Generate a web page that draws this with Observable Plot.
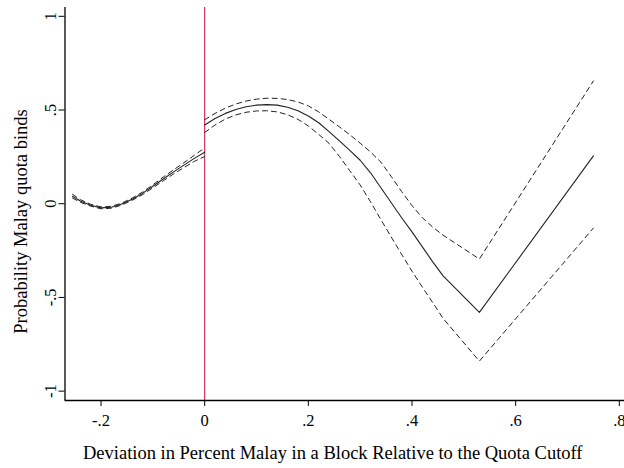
<!DOCTYPE html>
<html>
<head>
<meta charset="utf-8">
<script src="https://cdn.jsdelivr.net/npm/d3@7"></script>
<script src="https://cdn.jsdelivr.net/npm/@observablehq/plot@0.6"></script>
<style>
  html, body { margin: 0; padding: 0; background: #fff; }
</style>
</head>
<body>
<div id="chart"></div>
<script>
// Left of cutoff
const leftX     = [-0.255, -0.24, -0.22, -0.20, -0.18, -0.16, -0.14, -0.12, -0.10, -0.08, -0.06, -0.04, -0.02, 0];
const leftMean  = [0.040, 0.015, -0.008, -0.022, -0.019, -0.002, 0.024, 0.055, 0.093, 0.132, 0.170, 0.206, 0.242, 0.275];
const leftUpper = [0.050, 0.022, -0.003, -0.017, -0.014, 0.003, 0.030, 0.062, 0.101, 0.142, 0.181, 0.219, 0.258, 0.298];
const leftLower = [0.030, 0.008, -0.013, -0.027, -0.024, -0.007, 0.018, 0.048, 0.085, 0.122, 0.159, 0.193, 0.226, 0.252];

// Right of cutoff
const rightX     = [0, 0.02, 0.04, 0.06, 0.08, 0.10, 0.12, 0.14, 0.16, 0.18, 0.20, 0.22, 0.24, 0.26, 0.28, 0.30, 0.32, 0.34, 0.36, 0.38, 0.40, 0.42, 0.44, 0.46, 0.53, 0.75];
const rightMean  = [0.420, 0.455, 0.482, 0.503, 0.517, 0.526, 0.529, 0.526, 0.515, 0.496, 0.468, 0.432, 0.385, 0.335, 0.285, 0.232, 0.165, 0.085, 0.005, -0.075, -0.150, -0.230, -0.310, -0.385, -0.580, 0.255];
const rightUpper = [0.448, 0.482, 0.510, 0.532, 0.548, 0.558, 0.563, 0.562, 0.556, 0.543, 0.522, 0.490, 0.450, 0.410, 0.368, 0.323, 0.276, 0.222, 0.145, 0.065, -0.010, -0.075, -0.125, -0.168, -0.295, 0.655];
const rightLower = [0.380, 0.420, 0.452, 0.474, 0.488, 0.495, 0.496, 0.490, 0.475, 0.450, 0.415, 0.370, 0.322, 0.252, 0.176, 0.100, 0.010, -0.085, -0.178, -0.270, -0.360, -0.445, -0.528, -0.612, -0.840, -0.130];

const cutoff = [0];
const xTicks = [-0.2, 0, 0.2, 0.4, 0.6, 0.8];
const xTickLabels = ["-.2", "0", ".2", ".4", ".6", ".8"];
const yTicks = [-1, -0.5, 0, 0.5, 1];
const yTickLabels = ["-1", "-.5", "0", ".5", "1"];
const xTitle = "Deviation in Percent Malay in a Block Relative to the Quota Cutoff";
const yTitle = "Probability Malay quota binds";

const xDomain = [-0.2695, 0.81];
const yDomain = [-1.05, 1.047];

function rows(xs, ys, seg) { return xs.map((x, i) => ({x, y: ys[i], seg})); }
const meanRows  = [...rows(leftX, leftMean, "L"), ...rows(rightX, rightMean, "R")];
const upperRows = [...rows(leftX, leftUpper, "L"), ...rows(rightX, rightUpper, "R")];
const lowerRows = [...rows(leftX, leftLower, "L"), ...rows(rightX, rightLower, "R")];

const serif = "'Liberation Serif', 'Times New Roman', serif";

const chart = Plot.plot({
  width: 624,
  height: 468,
  marginLeft: 64.5,
  marginRight: 0,
  marginTop: 7,
  marginBottom: 68,
  style: {fontFamily: serif, background: "#fff", color: "#000"},
  x: {domain: xDomain},
  y: {domain: yDomain},
  marks: [
    Plot.ruleX(cutoff, {stroke: "#d0103a", strokeWidth: 1}),
    Plot.line(upperRows, {x: "x", y: "y", z: "seg", stroke: "#222", strokeWidth: 1, strokeDasharray: "5,4"}),
    Plot.line(lowerRows, {x: "x", y: "y", z: "seg", stroke: "#222", strokeWidth: 1, strokeDasharray: "5,4"}),
    Plot.line(meanRows, {x: "x", y: "y", z: "seg", stroke: "#222", strokeWidth: 1.1}),
    Plot.ruleX([xDomain[0]], {stroke: "#000", strokeWidth: 1.3}),
    Plot.ruleY([yDomain[0]], {stroke: "#000", strokeWidth: 1.3}),
    Plot.axisX({ticks: xTicks, tickFormat: (d, i) => xTickLabels[i], tickSize: 6, tickPadding: 8, fontSize: 16.5, label: null}),
    Plot.axisY({ticks: yTicks, tickFormat: (d, i) => yTickLabels[i], tickSize: 6, tickRotate: -90, tickPadding: 3, fontSize: 16.5, label: null}),
    Plot.text([xTitle], {frameAnchor: "bottom", text: d => d, textAnchor: "middle", lineAnchor: "bottom", dy: 58, dx: -12, fontSize: 18.5, fill: "#000"}),
    Plot.text([yTitle], {frameAnchor: "left", text: d => d, textAnchor: "middle", rotate: -90, lineAnchor: "bottom", dx: -38.5, dy: 17.5, fontSize: 18.5, fill: "#000"})
  ]
});
document.getElementById("chart").appendChild(chart);
</script>
</body>
</html>
